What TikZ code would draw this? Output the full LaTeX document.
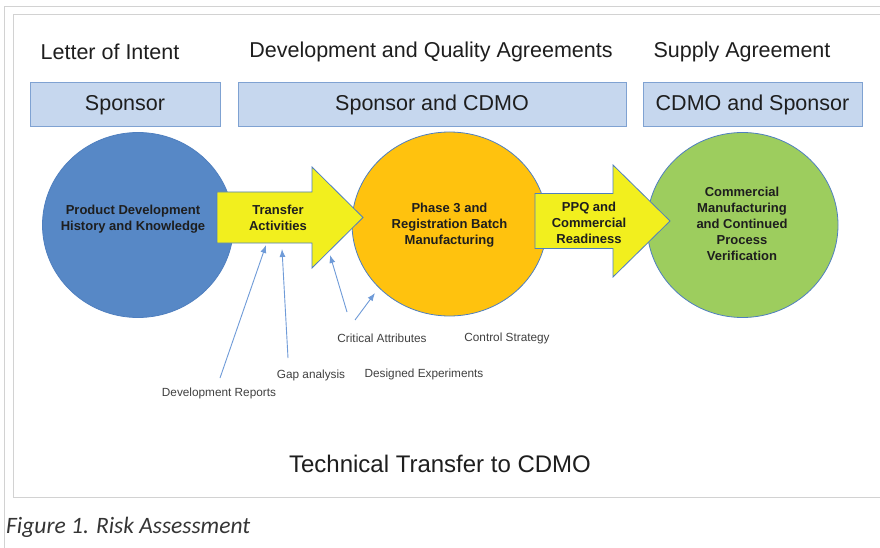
\documentclass[tikz,border=0pt]{standalone}
\usepackage{fontspec}
\setmainfont{Liberation Sans}
\newfontfamily\captionfont{Carlito}
\usetikzlibrary{shapes.geometric,arrows.meta}

\definecolor{framegray}{HTML}{D2D2D2}
\definecolor{rolefill}{HTML}{C6D7EE}
\definecolor{roledraw}{HTML}{7FA2D2}
\definecolor{stageblue}{HTML}{5788C6}
\definecolor{stagegold}{HTML}{FFC20E}
\definecolor{stagegreen}{HTML}{9DCD5E}
\definecolor{edgeblue}{HTML}{4F7FBF}
\definecolor{arrowyellow}{HTML}{F2EF1E}
\definecolor{pointerblue}{HTML}{6F9BD8}
\definecolor{inkgray}{HTML}{1E1E1E}

\begin{document}
\begin{tikzpicture}[x=1pt,y=-1pt,
  heading/.style={font=\fontsize{21.5}{25}\selectfont, text=inkgray, inner sep=0},
  rolebox/.style={draw=roledraw, fill=rolefill, line width=1pt, minimum height=44pt,
    font=\fontsize{21.5}{25}\selectfont, text=inkgray, inner sep=0},
  stage/.style={ellipse, draw=edgeblue, line width=0.8pt, inner sep=0},
  stagetext/.style={align=center, font=\bfseries\fontsize{13}{16}\selectfont, text=inkgray, inner sep=0},
  bigarrow/.style={draw=edgeblue, fill=arrowyellow, line width=0.8pt, line join=miter},
  note/.style={font=\fontsize{11.8}{14}\selectfont, text=inkgray!85, inner sep=0},
  pointer/.style={draw=pointerblue, line width=0.9pt, -{Latex[length=8pt,width=6pt]}}
]
\useasboundingbox[fill=white] (0,0) rectangle (880,548);

% page frames
\draw[framegray, line width=1pt] (4,548) -- (4,7) -- (880,7);
\draw[framegray, line width=1pt] (880,15) -- (13,15) -- (13,497) -- (880,497);

% agreement headings
\node[heading] (loi) at (110,52) {Letter of Intent};
\node[heading] (dqa) at (431,52) {Development and Quality Agreements};
\node[heading] (sup) at (742,52) {Supply Agreement};

% responsible parties
\node[rolebox, minimum width=190pt] (sponsor) at (125,105) {Sponsor};
\node[rolebox, minimum width=388pt] (shared) at (432,105) {Sponsor and CDMO};
\node[rolebox, minimum width=219pt] (cdmo) at (752.5,105) {CDMO and Sponsor};

% stages
\node[stage, fill=stageblue, minimum width=191pt, minimum height=185pt] (pdev) at (138,225) {};
\node[stage, fill=stagegold, minimum width=195pt, minimum height=184pt] (phase3) at (449.5,224) {};
\node[stage, fill=stagegreen, minimum width=191pt, minimum height=185pt] (commercial) at (742.5,225) {};

% transfer arrows
\draw[bigarrow] (217,192) -- (312,192) -- (312,167) -- (363,217.5) -- (312,268) -- (312,243) -- (217,243) -- cycle;
\draw[bigarrow] (535,193.5) -- (613,193.5) -- (613,165) -- (670,221) -- (613,277) -- (613,248.5) -- (535,248.5) -- cycle;

% stage texts
\node[stagetext] (pdevt) at (133,219.5) {Product Development\\History and Knowledge};
\node[stagetext] (transfer) at (278,218) {Transfer\\Activities};
\node[stagetext] (phase3t) at (449.5,225.5) {Phase 3 and\\Registration Batch\\Manufacturing};
\node[stagetext] (ppq) at (589,222.5) {PPQ and\\Commercial\\Readiness};
\node[stagetext] (commt) at (742,224) {Commercial\\Manufacturing\\and Continued\\Process\\Verification};

% inputs to the transfer
\node[note] (critical) at (382,338) {Critical Attributes};
\node[note] (control) at (507,338) {Control Strategy};
\node[note] (doe) at (424,374) {Designed Experiments};
\node[note] (gap) at (311,375) {Gap analysis};
\node[note] (devrep) at (219,393) {Development Reports};

\coordinate (devrepfrom) at (220,378);
\coordinate (devrepto) at (266,245);
\coordinate (gapfrom) at (288,358);
\coordinate (gapto) at (282,249);
\coordinate (critfromA) at (347,312);
\coordinate (crittoA) at (330,255);
\coordinate (critfromB) at (355,320);
\coordinate (crittoB) at (375,293);

\draw[pointer] (devrepfrom) -- (devrepto);
\draw[pointer] (gapfrom) -- (gapto);
\draw[pointer] (critfromA) -- (crittoA);
\draw[pointer] (critfromB) -- (crittoB);

% title and caption
\node[heading, font=\fontsize{24}{28}\selectfont] (title) at (440,464) {Technical Transfer to CDMO};
\node[anchor=west, inner sep=0, text=inkgray!90, font=\captionfont\itshape\fontsize{23.5}{27}\selectfont] (caption) at (6,527) {Figure 1. Risk Assessment};
\end{tikzpicture}
\end{document}
